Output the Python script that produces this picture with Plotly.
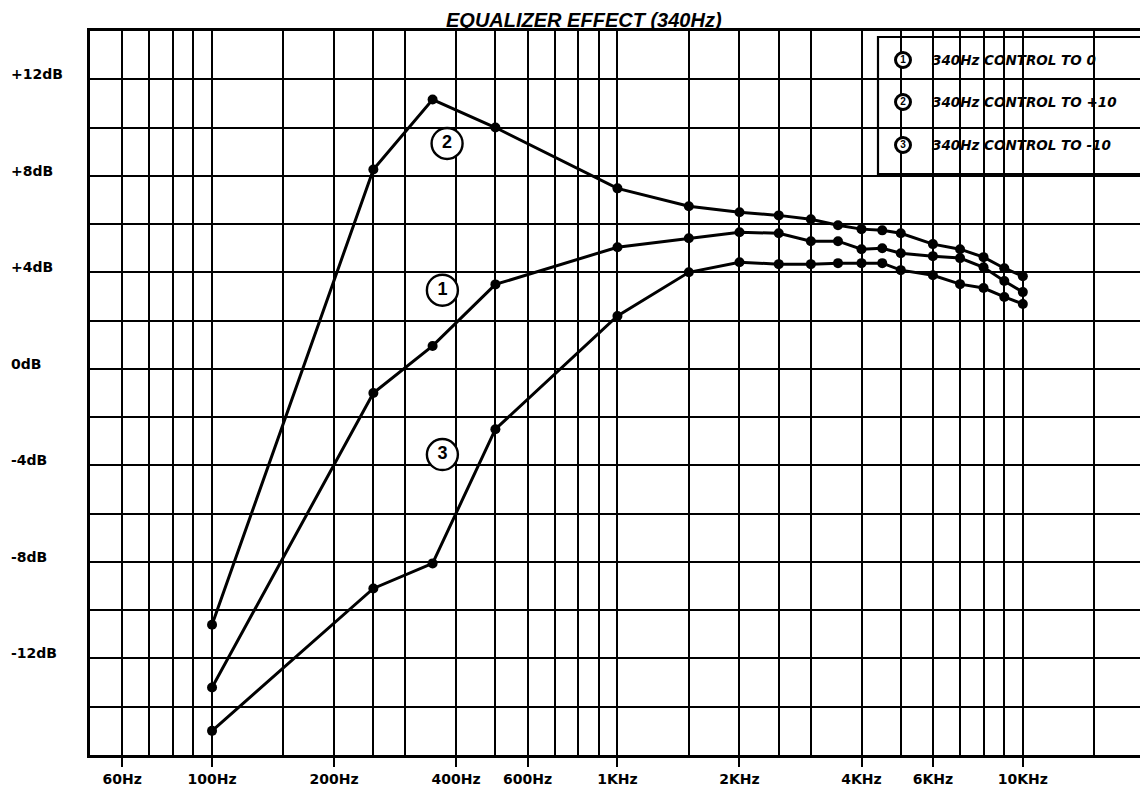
import math
import plotly.graph_objects as go

# ---------------- data ----------------
freqs = [100, 250, 350, 500, 1000, 1500, 2000, 2500, 3000, 3500, 4000,
         4500, 5000, 6000, 7000, 8000, 9000, 10000]
ctrl_0 = [-13.2, -1.0, 0.95, 3.5, 5.04, 5.41, 5.66, 5.62, 5.29, 5.29, 4.96,
          5.0, 4.79, 4.67, 4.59, 4.21, 3.64, 3.18]
ctrl_plus10 = [-10.6, 8.26, 11.16, 10.0, 7.48, 6.74, 6.49, 6.36, 6.2, 5.95,
               5.79, 5.74, 5.62, 5.17, 4.96, 4.63, 4.17, 3.84]
ctrl_minus10 = [-15.0, -9.1, -8.06, -2.5, 2.19, 4.0, 4.42, 4.34, 4.34, 4.38,
                4.38, 4.38, 4.09, 3.88, 3.51, 3.35, 2.98, 2.69]

series_names = ["340Hz CONTROL TO 0", "340Hz CONTROL TO +10", "340Hz CONTROL TO -10"]
series_ids = ["1", "2", "3"]

x_tick_vals = [60, 100, 200, 400, 600, 1000, 2000, 4000, 6000, 10000]
x_tick_text = ["60Hz", "100Hz", "200Hz", "400Hz", "600Hz", "1KHz", "2KHz",
               "4KHz", "6KHz", "10KHz"]
x_grid_minor = [70, 80, 90, 150, 250, 300, 500, 700, 800, 900, 1500, 2500,
                3000, 5000, 7000, 8000, 9000, 15000]
y_grid_vals = list(range(-14, 13, 2))
y_label_vals = [12, 8, 4, 0, -4, -8, -12]
y_label_text = ["+12dB", "+8dB", "+4dB", "0dB", "-4dB", "-8dB", "-12dB"]

# curve label positions (freq Hz, dB)
label_freqs = [370, 380, 370]
label_dbs = [3.26, 9.34, -3.55]

# ---------------- geometry (screen pixels; page body has an 8px margin) ----------------
BODY = 8
W, H = 1148 - 2 * BODY, 794 - 2 * BODY
PLOT_L, PLOT_R, PLOT_T, PLOT_B = 90, 1140, 31, 755      # screen coords of plot area
ML, MT = PLOT_L - BODY, PLOT_T - BODY
MR = W - (PLOT_R - BODY)
MB = H - (PLOT_B - BODY)
X_LO = math.log10(50)
DEC = 405.4                                               # pixels per decade
X_HI = X_LO + (PLOT_R - PLOT_L) / DEC
Y_LO, Y_HI = -16, 14


def pxp(xs):
    return (xs - PLOT_L) / (PLOT_R - PLOT_L)


def pyp(ys):
    return (PLOT_B - ys) / (PLOT_B - PLOT_T)


def data_x(xs):
    return 10 ** (X_LO + (xs - PLOT_L) / DEC)


def data_y(ys):
    return Y_LO + (PLOT_B - ys) / (PLOT_B - PLOT_T) * (Y_HI - Y_LO)


FONT = "DejaVu Sans"
HFONT = "Liberation Sans"
fig = go.Figure()

for ys in (ctrl_0, ctrl_plus10, ctrl_minus10):
    fig.add_trace(go.Scatter(
        x=freqs, y=ys, mode="lines+markers",
        line=dict(color="black", width=3),
        marker=dict(color="black", size=10),
        showlegend=False, hoverinfo="x+y"))

# circled curve labels
fig.add_trace(go.Scatter(
    x=label_freqs, y=label_dbs, mode="markers+text", text=series_ids,
    textposition="middle center",
    textfont=dict(family=HFONT, size=18, color="black", weight="bold"),
    marker=dict(symbol="circle", size=31, color="white",
                line=dict(color="black", width=2.4)),
    showlegend=False, hoverinfo="skip"))

fig.update_layout(
    width=W, height=H, autosize=False,
    margin=dict(l=ML, r=MR, t=MT, b=MB),
    plot_bgcolor="white", paper_bgcolor="white",
    showlegend=False,
)

fig.update_xaxes(
    type="log", range=[X_LO, X_HI],
    tickmode="array", tickvals=x_tick_vals, ticktext=x_tick_text,
    ticks="outside", ticklen=9, tickwidth=1.5, tickcolor="black",
    showgrid=True, gridcolor="black", gridwidth=2,
    showline=True, linecolor="black", linewidth=3, mirror=True,
    zeroline=False,
    tickfont=dict(family=FONT, size=14, color="black", weight="bold"),
    minor=dict(tickmode="array", tickvals=x_grid_minor, showgrid=True,
               gridcolor="black", gridwidth=2, ticks=""),
)
fig.update_yaxes(
    range=[Y_LO, Y_HI], tickmode="array", tickvals=y_grid_vals,
    showticklabels=False, ticks="",
    showgrid=True, gridcolor="black", gridwidth=2,
    showline=True, linecolor="black", linewidth=3, mirror=False,
    zeroline=False,
)

# y labels, left aligned
for v, t in zip(y_label_vals, y_label_text):
    fig.add_annotation(xref="paper", yref="y", x=pxp(9), y=v, xanchor="left",
                       yanchor="middle", yshift=5, text=t, showarrow=False,
                       font=dict(family=FONT, size=14, color="black", weight="bold"))

# title
fig.add_annotation(xref="paper", yref="paper", x=pxp(584), y=pyp(8),
                   xanchor="center", yanchor="top", borderpad=0,
                   showarrow=False,
                   text="EQUALIZER EFFECT (340Hz)",
                   font=dict(family=HFONT, size=20, color="black", weight="bold",
                             style="italic"))

# legend box (drawn above grid, below traces)
fig.add_shape(type="rect", xref="paper", yref="paper",
              x0=pxp(878), x1=pxp(1160), y0=pyp(174), y1=pyp(37),
              line=dict(color="black", width=2.2), fillcolor="white", layer="between")
leg_y = [60, 102, 145]
fig.add_trace(go.Scatter(
    x=[data_x(903)] * 3, y=[data_y(v) for v in leg_y], mode="markers+text",
    text=series_ids, textposition="middle center",
    textfont=dict(family=HFONT, size=10, color="black", weight="bold"),
    marker=dict(symbol="circle", size=15, color="white",
                line=dict(color="black", width=3)),
    showlegend=False, hoverinfo="skip", cliponaxis=False))
for name, yy in zip(series_names, leg_y):
    fig.add_annotation(xref="paper", yref="paper", x=pxp(930), y=pyp(yy),
                       xanchor="left", yanchor="middle", text=name,
                       showarrow=False,
                       font=dict(family=FONT, size=13.5, color="black", weight="bold",
                                 style="italic"))

fig.write_html("out.html")
